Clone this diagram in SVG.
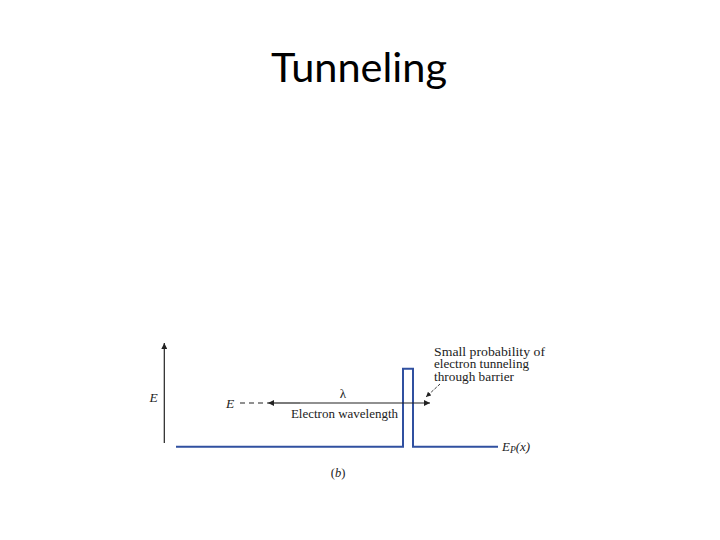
<svg xmlns="http://www.w3.org/2000/svg" width="720" height="540" viewBox="0 0 720 540">
<style>
.t{font-family:"Liberation Serif",serif;fill:#222}
.ti{font-family:"Liberation Serif",serif;font-style:italic;fill:#222}
.blue{fill:none;stroke:#3050a0;stroke-width:2}
.ln{stroke:#222;stroke-width:1.2;fill:none}
</style>
<defs>
<marker id="ah" viewBox="0 0 10 10" refX="10" refY="5" markerWidth="9" markerHeight="6" markerUnits="userSpaceOnUse" orient="auto"><path d="M0,0 L10,5 L0,10 z" fill="#222"/></marker>
<marker id="ahs" viewBox="0 0 10 10" refX="10" refY="5" markerWidth="6" markerHeight="5" markerUnits="userSpaceOnUse" orient="auto"><path d="M0,0 L10,5 L0,10 z" fill="#222"/></marker>
</defs>
<rect width="720" height="540" fill="#fff"/>
<text x="359" y="82" text-anchor="middle" font-family="Lato, sans-serif" font-size="41.5" fill="#000">Tunneling</text>
<g id="potential">
<path class="blue" d="M176,446.7 H403 V368.7 H413 V446.7 H498"/>
</g>
<g id="connectors">
<line class="ln" x1="164.3" y1="443" x2="164.3" y2="343" marker-end="url(#ah)"/>
<line class="ln" x1="240" y1="403" x2="268" y2="403" stroke-dasharray="5,4"/>
<line class="ln" x1="300" y1="403" x2="268" y2="403" marker-end="url(#ah)"/>
<line class="ln" x1="300" y1="403" x2="430" y2="403" marker-end="url(#ah)"/>
<line x1="440" y1="384" x2="426" y2="397" stroke="#222" stroke-width="0.9" stroke-dasharray="3,1.5" marker-end="url(#ahs)"/>
</g>
<g id="labels">
<text class="ti" x="153.5" y="401.5" font-size="13.5" text-anchor="middle">E</text>
<text class="ti" x="230" y="408" font-size="13.5" text-anchor="middle">E</text>
<text class="t" x="343" y="398" font-size="13" text-anchor="middle">λ</text>
<text class="t" x="344.5" y="418" font-size="13" text-anchor="middle">Electron wavelength</text>
<text class="ti" x="502" y="450.5" font-size="13">E<tspan font-size="9.5" dy="2">P</tspan><tspan dy="-2">(x)</tspan></text>
<text class="t" x="338" y="477" font-size="12.5" text-anchor="middle">(<tspan font-style="italic">b</tspan>)</text>
<text class="t" x="434" y="355.7" font-size="12.3" textLength="111" lengthAdjust="spacingAndGlyphs">Small probability of</text>
<text class="t" x="434" y="368.3" font-size="12.3" textLength="95" lengthAdjust="spacingAndGlyphs">electron tunneling</text>
<text class="t" x="434" y="380.8" font-size="12.3" textLength="80" lengthAdjust="spacingAndGlyphs">through barrier</text>
</g>
</svg>
